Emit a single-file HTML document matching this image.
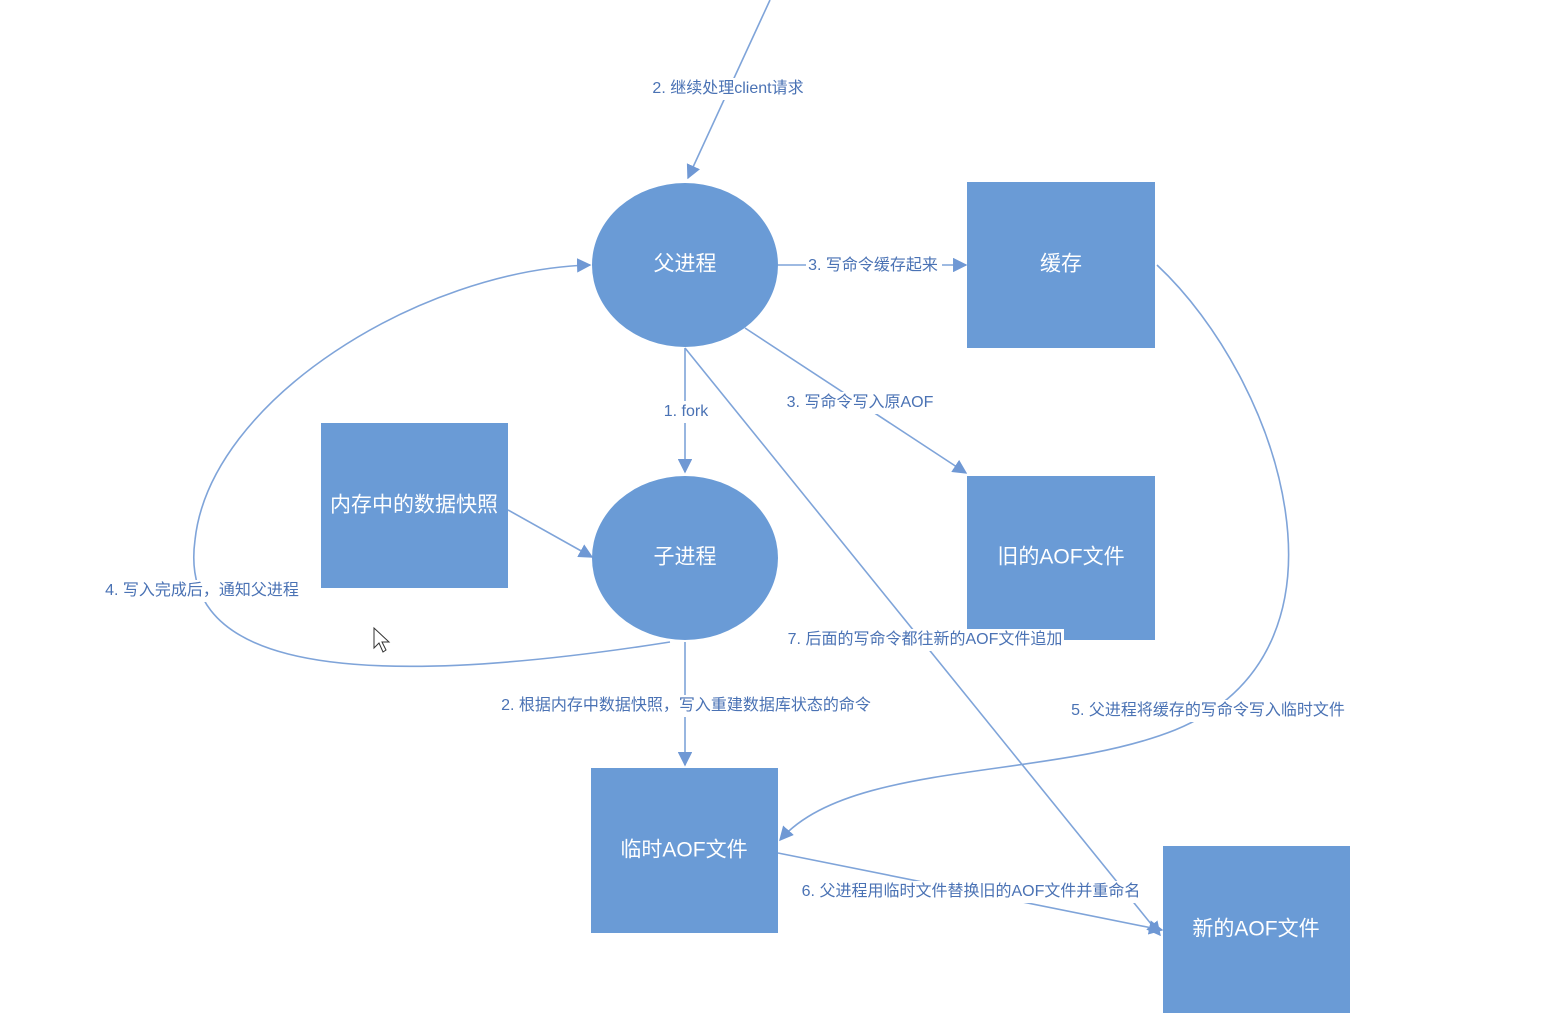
<!DOCTYPE html>
<html><head><meta charset="utf-8"><style>
html,body{margin:0;padding:0;background:#fff;}
svg{display:block;}
text{font-family:"Liberation Sans","Noto Sans CJK SC",sans-serif;}
.n{fill:#fff;font-size:21px;text-anchor:middle;dominant-baseline:middle;}
.l{fill:#4a72b4;font-size:16px;text-anchor:middle;dominant-baseline:middle;}
.c{stroke:#7fa4d9;stroke-width:1.6;fill:none;}
</style></head><body>
<svg width="1554" height="1030" viewBox="0 0 1554 1030" xmlns="http://www.w3.org/2000/svg">
<defs><marker id="a" viewBox="0 0 10 10" refX="9" refY="5" markerWidth="9" markerHeight="9" orient="auto"><path d="M0,0 L10,5 L0,10 z" fill="#6f98d4"/></marker></defs>
<g fill="#6a9bd6">
<ellipse cx="685" cy="265" rx="93" ry="82"/>
<ellipse cx="685" cy="558" rx="93" ry="82"/>
<rect x="967" y="182" width="188" height="166"/>
<rect x="967" y="476" width="188" height="164"/>
<rect x="321" y="423" width="187" height="165"/>
<rect x="591" y="768" width="187" height="165"/>
<rect x="1163" y="846" width="187" height="167"/>
</g>
<g class="c">
<path d="M770,0 L688,178" marker-end="url(#a)"/>
<path d="M778,265 L966,265" marker-end="url(#a)"/>
<path d="M745,328 L966,473" marker-end="url(#a)"/>
<path d="M685,348 L685,472" marker-end="url(#a)"/>
<path d="M508,510 L592,557" marker-end="url(#a)"/>
<path d="M670,642 C300,700 180,650 195,540 C210,400 420,270 590,265" marker-end="url(#a)"/>
<path d="M685,642 L685,765" marker-end="url(#a)"/>
<path d="M685,348 L1160,935" marker-end="url(#a)"/>
<path d="M1157,265 C1280,380 1370,650 1175,730 C1050,780 850,760 780,840" marker-end="url(#a)"/>
<path d="M778,853 L1162,930" marker-end="url(#a)"/>
</g>
<g fill="#fff">
<rect x="650" y="78" width="158" height="22"/>
<rect x="806" y="255" width="136" height="22"/>
<rect x="786" y="392" width="148" height="22"/>
<rect x="662" y="401" width="48" height="22"/>
<rect x="100" y="580" width="205" height="22"/>
<rect x="494" y="695" width="384" height="22"/>
<rect x="786" y="629" width="278" height="22"/>
<rect x="1067" y="700" width="282" height="22"/>
<rect x="798" y="881" width="346" height="22"/>
</g>
<text class="n" x="685" y="265">父进程</text>
<text class="n" x="685" y="558">子进程</text>
<text class="n" x="1061" y="265">缓存</text>
<text class="n" x="1061" y="558">旧的AOF文件</text>
<text class="n" x="414" y="506">内存中的数据快照</text>
<text class="n" x="684" y="851">临时AOF文件</text>
<text class="n" x="1256" y="930">新的AOF文件</text>
<text class="l" x="728" y="89">2. 继续处理client请求</text>
<text class="l" x="873" y="266">3. 写命令缓存起来</text>
<text class="l" x="860" y="403">3. 写命令写入原AOF</text>
<text class="l" x="686" y="412">1. fork</text>
<text class="l" x="202" y="591">4. 写入完成后，通知父进程</text>
<text class="l" x="686" y="706">2. 根据内存中数据快照，写入重建数据库状态的命令</text>
<text class="l" x="925" y="640">7. 后面的写命令都往新的AOF文件追加</text>
<text class="l" x="1208" y="711">5. 父进程将缓存的写命令写入临时文件</text>
<text class="l" x="971" y="892">6. 父进程用临时文件替换旧的AOF文件并重命名</text>
<path d="M374,628 L374,648 L379,643 L383,652 L386,650 L382,642 L389,642 Z" fill="#fff" stroke="#333" stroke-width="1"/>
</svg>
</body></html>
